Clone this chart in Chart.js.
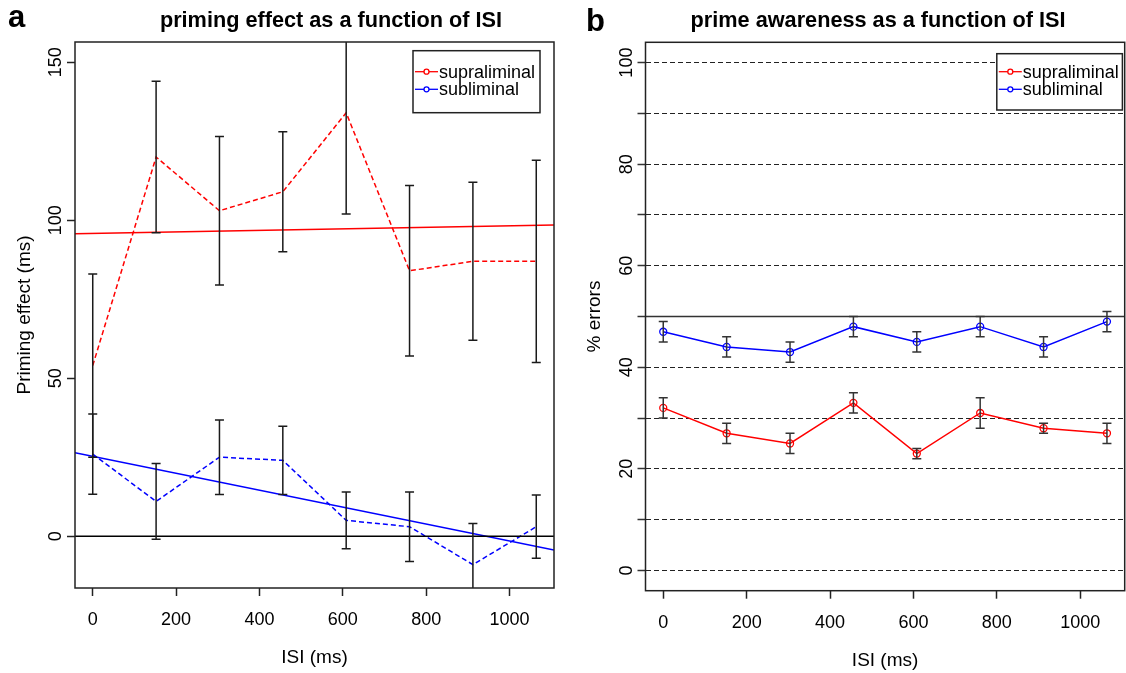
<!DOCTYPE html>
<html lang="en">
<head>
  <meta charset="UTF-8" />
  <title>Priming effect and prime awareness by ISI</title>
  <script src="https://cdnjs.cloudflare.com/ajax/libs/Chart.js/4.4.1/chart.umd.js"></script>
  <style>
    body {
      margin: 0;
      background: #fff;
      overflow: hidden;
      width: 1126px;
      height: 673px;
      position: relative;
    }
    .panel { position: absolute; top: 0; }
    canvas { display: block; }
  </style>
</head>
<body>
  <div class="panel" style="left:0"><canvas id="panelA" width="563" height="673"></canvas></div>
  <div class="panel" style="left:563px"><canvas id="panelB" width="567" height="673"></canvas></div>

  <script>
    // ISI values (ms) shared by both panels
    const isi = [0, 152, 304, 456, 608, 760, 912, 1064];
    const xTicks = [0, 200, 400, 600, 800, 1000];

    // panel a: priming effect (ms), mean and half error bar
    const primeSupra = [54, 120, 103, 109, 134, 84, 87, 87];
    const primeSupraErr = [29, 24, 23.5, 19, 32, 27, 25, 32];
    const primeSub = [26, 11, 25, 24, 5, 3, -9, 3];
    const primeSubErr = [12.7, 12, 11.8, 10.8, 9, 11, 13, 10];
    const fitSupra = [95.8, 0.00244];   // intercept, slope
    const fitSub = [25.3, -0.0268];
    const primeRange = [-10, 150];
    const primeTicks = [0, 50, 100, 150];

    // panel b: % errors in prime identification
    const awareSupra = [32, 27, 25, 33, 23, 31, 28, 27];
    const awareSupraErr = [2, 2, 2, 2, 1, 3, 1, 2];
    const awareSub = [47, 44, 43, 48, 45, 48, 44, 49];
    const awareSubErr = [2, 2, 2, 2, 2, 2, 2, 2];
    const awareRange = [0, 100];
    const awareGrid = [0, 10, 20, 30, 40, 50, 60, 70, 80, 90, 100];
    const awareTicks = [0, 20, 40, 60, 80, 100];

    const RED = '#ff0000';
    const BLUE = '#0000ff';
    const FONT = '"Liberation Sans", Arial, Helvetica, sans-serif';
    Chart.defaults.font.family = FONT;
    Chart.defaults.color = '#000';

    // R-style axis extension (4% each side)
    const ext = r => [r[0] - 0.04 * (r[1] - r[0]), r[1] + 0.04 * (r[1] - r[0])];
    const xRange = ext([isi[0], isi[isi.length - 1]]);
    const pts = (ys) => isi.map((x, i) => ({ x, y: ys[i] }));
    const fitLine = f => xRange.map(x => ({ x, y: f[0] + f[1] * x }));

    const errorBars = {
      id: 'errorBars',
      afterDatasetsDraw(chart, args, opts) {
        const { ctx, chartArea: a, scales: { x, y } } = chart;
        ctx.save();
        ctx.beginPath();
        ctx.rect(a.left, a.top, a.right - a.left, a.bottom - a.top);
        ctx.clip();
        ctx.setLineDash([]);
        ctx.strokeStyle = opts.color;
        ctx.lineWidth = opts.width;
        chart.data.datasets.forEach(ds => {
          if (!ds.errors) return;
          ds.data.forEach((p, i) => {
            const px = x.getPixelForValue(p.x);
            const lo = y.getPixelForValue(p.y - ds.errors[i]);
            const hi = y.getPixelForValue(p.y + ds.errors[i]);
            ctx.beginPath();
            ctx.moveTo(px, lo); ctx.lineTo(px, hi);
            ctx.moveTo(px - opts.cap, lo); ctx.lineTo(px + opts.cap, lo);
            ctx.moveTo(px - opts.cap, hi); ctx.lineTo(px + opts.cap, hi);
            ctx.stroke();
          });
        });
        ctx.restore();
      }
    };

    const refLine = {
      id: 'refLine',
      afterDatasetsDraw(chart, args, opts) {
        const { ctx, chartArea: a, scales: { y } } = chart;
        const py = y.getPixelForValue(opts.value);
        ctx.save();
        ctx.setLineDash([]);
        ctx.strokeStyle = opts.color;
        ctx.lineWidth = opts.width;
        ctx.beginPath();
        ctx.moveTo(a.left, py);
        ctx.lineTo(a.right, py);
        ctx.stroke();
        ctx.restore();
      }
    };

    const frame = {
      id: 'frame',
      afterDraw(chart, args, opts) {
        const { ctx, chartArea: a } = chart;
        ctx.save();
        ctx.strokeStyle = opts.color;
        ctx.lineWidth = opts.width;
        ctx.strokeRect(a.left, a.top, a.right - a.left, a.bottom - a.top);
        ctx.restore();
      }
    };

    const boxLegend = {
      id: 'boxLegend',
      afterDraw(chart, args, opts) {
        const { ctx, chartArea: a } = chart;
        const left = a.right - opts.right - opts.width;
        const top = a.top + opts.top;
        ctx.save();
        ctx.fillStyle = '#fff';
        ctx.fillRect(left, top, opts.width, opts.height);
        ctx.strokeStyle = '#222';
        ctx.lineWidth = 1.5;
        ctx.strokeRect(left, top, opts.width, opts.height);
        ctx.font = '18px ' + FONT;
        ctx.textBaseline = 'middle';
        chart.data.datasets.filter(d => d.label).forEach((d, i) => {
          const cy = top + opts.firstRow + i * opts.rowGap;
          ctx.strokeStyle = d.borderColor;
          ctx.lineWidth = 1.3;
          ctx.beginPath();
          ctx.moveTo(left + 2, cy); ctx.lineTo(left + 25, cy);
          ctx.stroke();
          ctx.beginPath();
          ctx.arc(left + 13.5, cy, 2.5, 0, Math.PI * 2);
          ctx.fillStyle = '#fff';
          ctx.fill();
          ctx.stroke();
          ctx.fillStyle = '#000';
          ctx.fillText(d.label, left + 26, cy + 1);
        });
        ctx.restore();
      }
    };

    const panelText = {
      id: 'panelText',
      afterDraw(chart, args, opts) {
        const { ctx } = chart;
        ctx.save();
        ctx.fillStyle = '#000';
        ctx.textBaseline = 'alphabetic';
        ctx.font = 'bold 31px ' + FONT;
        ctx.textAlign = 'left';
        ctx.fillText(opts.letter, opts.letterX, opts.letterY);
        ctx.font = 'bold 21.7px ' + FONT;
        ctx.textAlign = 'center';
        ctx.fillText(opts.title, opts.titleX, opts.titleY);
        ctx.restore();
      }
    };

    function xScale(height, tickPad, titlePad) {
      return {
        type: 'linear',
        min: xRange[0],
        max: xRange[1],
        afterBuildTicks: s => { s.ticks = xTicks.map(v => ({ value: v })); },
        afterFit: s => { s.height = height; },
        border: { display: false },
        grid: { drawOnChartArea: false, drawTicks: true, tickLength: 8, tickColor: '#222', tickWidth: 1.5 },
        ticks: { font: { size: 18 }, color: '#000', padding: tickPad, maxRotation: 0, minRotation: 0, autoSkip: false, callback: v => String(v) },
        title: { display: true, text: 'ISI (ms)', font: { size: 19 }, color: '#000', padding: { top: 0, bottom: titlePad } }
      };
    }

    // panel a
    new Chart(document.getElementById('panelA'), {
      type: 'line',
      data: {
        datasets: [
          { label: 'supraliminal', data: pts(primeSupra), errors: primeSupraErr, borderColor: RED, borderWidth: 1.5, borderDash: [5, 3], pointRadius: 0, fill: false },
          { label: 'subliminal', data: pts(primeSub), errors: primeSubErr, borderColor: BLUE, borderWidth: 1.5, borderDash: [5, 3], pointRadius: 0, fill: false },
          { data: fitLine(fitSupra), borderColor: RED, borderWidth: 1.5, pointRadius: 0, fill: false },
          { data: fitLine(fitSub), borderColor: BLUE, borderWidth: 1.5, pointRadius: 0, fill: false }
        ]
      },
      options: {
        responsive: false,
        animation: false,
        events: [],
        layout: { padding: { top: 42, left: 0, right: 9, bottom: 0 } },
        scales: {
          x: xScale(85, 13.5, 4),
          y: {
            min: ext(primeRange)[0],
            max: ext(primeRange)[1],
            afterBuildTicks: s => { s.ticks = primeTicks.map(v => ({ value: v })); },
            afterFit: s => { s.width = 75; },
            border: { display: false },
            grid: { drawOnChartArea: false, drawTicks: true, tickLength: 8, tickColor: '#222', tickWidth: 1.5 },
            ticks: { font: { size: 18 }, color: '#000', minRotation: 90, maxRotation: 90, crossAlign: 'center', padding: -4.5, autoSkip: false, callback: v => String(v) },
            title: { display: true, text: 'Priming effect (ms)', font: { size: 19 }, color: '#000', padding: { top: 13.6, bottom: 0 } }
          }
        },
        plugins: {
          legend: { display: false },
          tooltip: { enabled: false },
          refLine: { value: 0, color: '#000', width: 1.5 },
          errorBars: { color: '#1a1a1a', width: 1.5, cap: 4.5 },
          frame: { color: '#222', width: 1.5 },
          boxLegend: { right: 14, top: 8.7, width: 127, height: 62, firstRow: 21, rowGap: 17.6 },
          panelText: { letter: 'a', letterX: 8, letterY: 26.5, title: 'priming effect as a function of ISI', titleX: 331, titleY: 26.5 }
        }
      },
      plugins: [refLine, errorBars, frame, boxLegend, panelText]
    });

    // panel b
    new Chart(document.getElementById('panelB'), {
      type: 'line',
      data: {
        datasets: [
          { label: 'supraliminal', data: pts(awareSupra), errors: awareSupraErr, borderColor: RED, borderWidth: 1.5, pointRadius: 3.5, pointBorderWidth: 1.3, pointBorderColor: RED, pointBackgroundColor: 'rgba(0,0,0,0)', fill: false },
          { label: 'subliminal', data: pts(awareSub), errors: awareSubErr, borderColor: BLUE, borderWidth: 1.5, pointRadius: 3.5, pointBorderWidth: 1.3, pointBorderColor: BLUE, pointBackgroundColor: 'rgba(0,0,0,0)', fill: false }
        ]
      },
      options: {
        responsive: false,
        animation: false,
        events: [],
        layout: { padding: { top: 42.3, left: 7.5, right: 3.7, bottom: 0 } },
        scales: {
          x: xScale(82.3, 13.5, 1),
          y: {
            min: ext(awareRange)[0],
            max: ext(awareRange)[1],
            afterBuildTicks: s => { s.ticks = awareGrid.map(v => ({ value: v })); },
            afterFit: s => { s.width = 75; },
            border: { display: false, dash: [5, 3] },
            grid: { drawOnChartArea: true, color: '#222', lineWidth: 1, drawTicks: true, tickLength: 8, tickColor: '#333', tickWidth: 1.5, tickBorderDash: [] },
            ticks: { font: { size: 18 }, color: '#000', minRotation: 90, maxRotation: 90, crossAlign: 'center', padding: -4.5, autoSkip: false, callback: v => awareTicks.includes(v) ? String(v) : '' },
            title: { display: true, text: '% errors', font: { size: 19 }, color: '#000', padding: { top: 13.1, bottom: 0 } }
          }
        },
        plugins: {
          legend: { display: false },
          tooltip: { enabled: false },
          refLine: { value: 50, color: '#333', width: 1.5 },
          errorBars: { color: '#333', width: 1.5, cap: 4.5 },
          frame: { color: '#222', width: 1.5 },
          boxLegend: { right: 2.3, top: 11.4, width: 125.6, height: 56.3, firstRow: 18, rowGap: 17.6 },
          panelText: { letter: 'b', letterX: 23, letterY: 31, title: 'prime awareness as a function of ISI', titleX: 315, titleY: 26.5 }
        }
      },
      plugins: [refLine, errorBars, frame, boxLegend, panelText]
    });
  </script>
</body>
</html>
